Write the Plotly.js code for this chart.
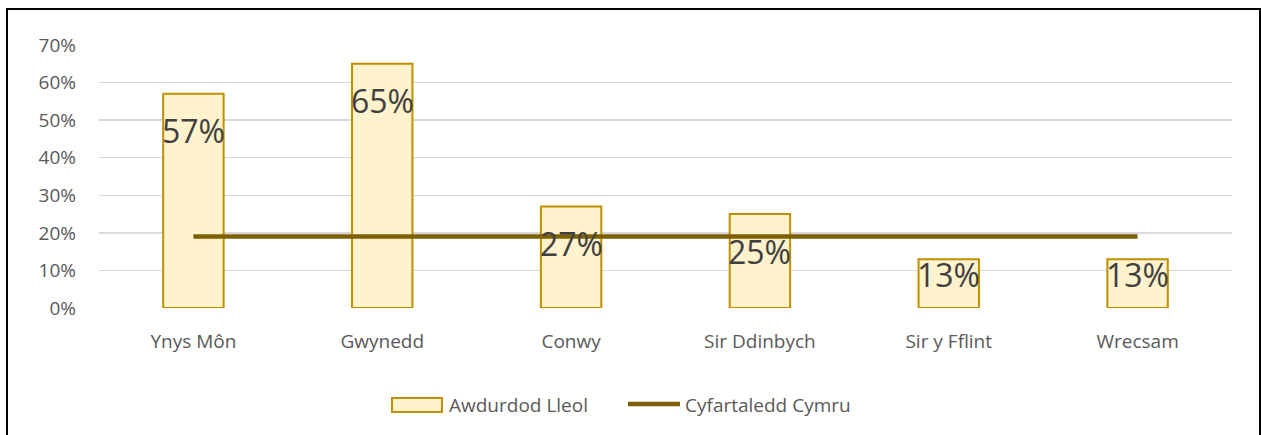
<!DOCTYPE html>
<html>
<head>
<meta charset="utf-8">
<script src="https://cdn.plot.ly/plotly-3.0.1.min.js"></script>
<style>
  html, body { margin: 0; padding: 0; background: #fff; overflow: hidden; }
  #chart { position: absolute; left: 0; top: 0; width: 1261px; height: 435px; }
  #frame { position: absolute; left: 6px; top: 8px; width: 1251px; height: 500px;
           border: 2px solid #000; pointer-events: none; }
</style>
</head>
<body>
<div id="chart"></div>
<div id="frame"></div>
<script>
const categories = ["Ynys Môn", "Gwynedd", "Conwy", "Sir Ddinbych", "Sir y Fflint", "Wrecsam"];
const localAuthority = [0.57, 0.65, 0.27, 0.25, 0.13, 0.13];
const walesAverage = [0.19, 0.19, 0.19, 0.19, 0.19, 0.19];
const yTickVals = [0, 0.1, 0.2, 0.3, 0.4, 0.5, 0.6, 0.7];
const yTickText = ["0%", "10%", "20%", "30%", "40%", "50%", "60%", "70%"];
const seriesNames = ["Awdurdod Lleol", "Cyfartaledd Cymru"];

const font = "'Open Sans', 'Noto Sans', sans-serif";
const barFill = "#FFF2CC", barEdge = "#BF9000", lineColor = "#7F6000";

const traces = [
  {
    type: "bar",
    name: seriesNames[0],
    x: categories,
    y: localAuthority,
    width: 0.32,
    marker: { color: barFill, line: { color: barEdge, width: 2 } },
    hoverinfo: "x+y"
  },
  {
    type: "scatter",
    mode: "lines",
    name: seriesNames[1],
    x: categories,
    y: walesAverage,
    line: { color: lineColor, width: 4.5 },
    hoverinfo: "x+y"
  }
];

const annotations = categories.map((c, i) => ({
  x: c,
  y: localAuthority[i],
  xref: "x",
  yref: "y",
  text: Math.round(localAuthority[i] * 100) + "%",
  showarrow: false,
  yanchor: "middle",
  yshift: localAuthority[i] < 0.2 ? -15 : -37,
  font: { family: font, size: 32, color: "#404040" }
}));

// custom legend (wide swatches like the original)
annotations.push(
  { xref: "paper", yref: "paper", x: 0.3071, y: -0.3688, xanchor: "left", yanchor: "middle",
    text: seriesNames[0], showarrow: false, font: { family: font, size: 19, color: "#595959" } },
  { xref: "paper", yref: "paper", x: 0.5154, y: -0.3688, xanchor: "left", yanchor: "middle",
    text: seriesNames[1], showarrow: false, font: { family: font, size: 19, color: "#595959" } }
);
const shapes = [
  { type: "rect", xref: "paper", yref: "paper", x0: 0.2586, x1: 0.3027, y0: -0.3954, y1: -0.3422,
    fillcolor: barFill, line: { color: barEdge, width: 2 } },
  { type: "line", xref: "paper", yref: "paper", x0: 0.4669, x1: 0.5128, y0: -0.365, y1: -0.365,
    line: { color: lineColor, width: 4.5 } }
];

const layout = {
  width: 1261,
  height: 435,
  margin: { l: 99, r: 29, t: 45, b: 127 },
  paper_bgcolor: "rgba(0,0,0,0)",
  plot_bgcolor: "#fff",
  showlegend: false,
  xaxis: {
    type: "category",
    showgrid: false,
    zeroline: false,
    showline: false,
    ticks: "",
    ticklabelstandoff: 20,
    tickfont: { family: font, size: 19, color: "#595959" }
  },
  yaxis: {
    range: [0, 0.7],
    tickvals: yTickVals,
    ticktext: yTickText,
    showgrid: true,
    gridcolor: "#D9D9D9",
    gridwidth: 1.3,
    zeroline: false,
    showline: false,
    ticks: "",
    ticklabelstandoff: 22,
    tickfont: { family: font, size: 19, color: "#595959" }
  },
  shapes: shapes,
  annotations: annotations
};

Plotly.newPlot("chart", traces, layout, { displayModeBar: false, staticPlot: true });
</script>
</body>
</html>
